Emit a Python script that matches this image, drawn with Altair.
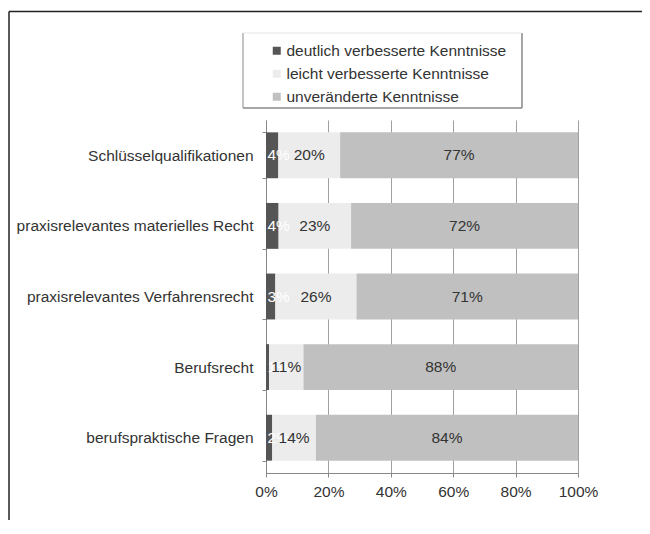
import altair as alt
import pandas as pd

categories = [
    "Schlüsselqualifikationen",
    "praxisrelevantes materielles Recht",
    "praxisrelevantes Verfahrensrecht",
    "Berufsrecht",
    "berufspraktische Fragen",
]
series = [
    "deutlich verbesserte Kenntnisse",
    "leicht verbesserte Kenntnisse",
    "unveränderte Kenntnisse",
]
deutlich = [4, 4, 3, 1, 2]
leicht = [20, 23, 26, 11, 14]
unveraendert = [77, 72, 71, 88, 84]
colors = ["#555555", "#ececec", "#c0c0c0"]
x_ticks = [0, 0.2, 0.4, 0.6, 0.8, 1.0]

rows = []
for i, c in enumerate(categories):
    for j, (s, vals) in enumerate(zip(series, [deutlich, leicht, unveraendert])):
        rows.append({"cat": c, "series": s, "order": j, "value": vals[i], "label": f"{vals[i]}%"})
df = pd.DataFrame(rows)

FONT = "Liberation Sans"
FS = 15.5

base = alt.Chart(df).transform_stack(
    as_=["x0", "x1"],
    stack="value",
    groupby=["cat"],
    offset="normalize",
    sort=[alt.SortField(field="order", order="ascending")],
).transform_calculate(mid="(datum.x0 + datum.x1) / 2")

y_enc = alt.Y(
    "cat:N",
    sort=categories,
    scale=alt.Scale(paddingInner=0.35, paddingOuter=0.175),
    axis=alt.Axis(
        title=None, labelFontSize=FS, labelFont=FONT, labelColor="#333333",
        tickSize=4, tickColor="#888888", domainColor="#888888",
        labelPadding=9, tickBand="extent", grid=False, labelLimit=300,
    ),
)

bars = base.mark_bar().encode(
    y=y_enc,
    x=alt.X(
        "x0:Q",
        scale=alt.Scale(domain=[0, 1]),
        axis=alt.Axis(
            title=None, format="%", values=x_ticks, labelFontSize=FS, labelFont=FONT,
            labelColor="#333333", tickSize=4, tickColor="#888888", labelFlush=False,
            domainColor="#888888", gridColor="#a0a0a0", labelPadding=7,
        ),
    ),
    x2="x1:Q",
    color=alt.Color(
        "series:N",
        scale=alt.Scale(domain=series, range=colors),
        legend=alt.Legend(
            title=None, orient="none", legendX=3, legendY=-77,
            symbolType="square", symbolSize=64, symbolStrokeWidth=0,
            labelFontSize=FS, labelFont=FONT, labelColor="#333333",
            rowPadding=6, padding=0, labelOffset=2, labelLimit=400,
        ),
    ),
    order=alt.Order("order:Q"),
)

text_mid = base.transform_filter(alt.datum.order > 0).mark_text(
    fontSize=FS, font=FONT, color="#333333"
).encode(
    y=alt.Y("cat:N", sort=categories),
    x=alt.X("mid:Q"),
    text="label:N",
)

text_dark = base.transform_filter(alt.datum.order == 0).mark_text(
    fontSize=FS, font=FONT, color="#ffffff", align="left", dx=1.5
).encode(
    y=alt.Y("cat:N", sort=categories),
    x=alt.X("x0:Q"),
    text="label:N",
)

deco_df = pd.DataFrame({"k": [0]})
frame_top = alt.Chart(deco_df).mark_rule(color="#222222", strokeWidth=1.5).encode(
    x=alt.value(-257), x2=alt.value(380), y=alt.value(-108.5)
)
frame_left = alt.Chart(deco_df).mark_rule(color="#222222", strokeWidth=1.5).encode(
    x=alt.value(-257), y=alt.value(-108.5), y2=alt.value(400)
)
lg_left = alt.Chart(deco_df).mark_rule(color="#888888", strokeWidth=1).encode(
    x=alt.value(-23), y=alt.value(-87), y2=alt.value(-12)
)
lg_right = alt.Chart(deco_df).mark_rule(color="#888888", strokeWidth=1.5).encode(
    x=alt.value(256), y=alt.value(-87), y2=alt.value(-12)
)
lg_bottom = alt.Chart(deco_df).mark_rule(color="#888888", strokeWidth=1.5).encode(
    x=alt.value(-23), x2=alt.value(256), y=alt.value(-12)
)
lg_top = alt.Chart(deco_df).mark_rule(color="#e4e4e4", strokeWidth=1).encode(
    x=alt.value(-23), x2=alt.value(256), y=alt.value(-87)
)

chart = alt.layer(
    bars, text_dark, text_mid, frame_top, frame_left, lg_left, lg_right, lg_bottom, lg_top
).properties(
    width=312,
    height=353,
    padding={"left": 258, "top": 112, "right": 64, "bottom": 49},
    autosize=alt.AutoSizeParams(type="none"),
    background="#ffffff",
).configure(font=FONT).configure_view(strokeWidth=0)

chart.save("out.html", embed_options={"renderer": "svg", "actions": False})
